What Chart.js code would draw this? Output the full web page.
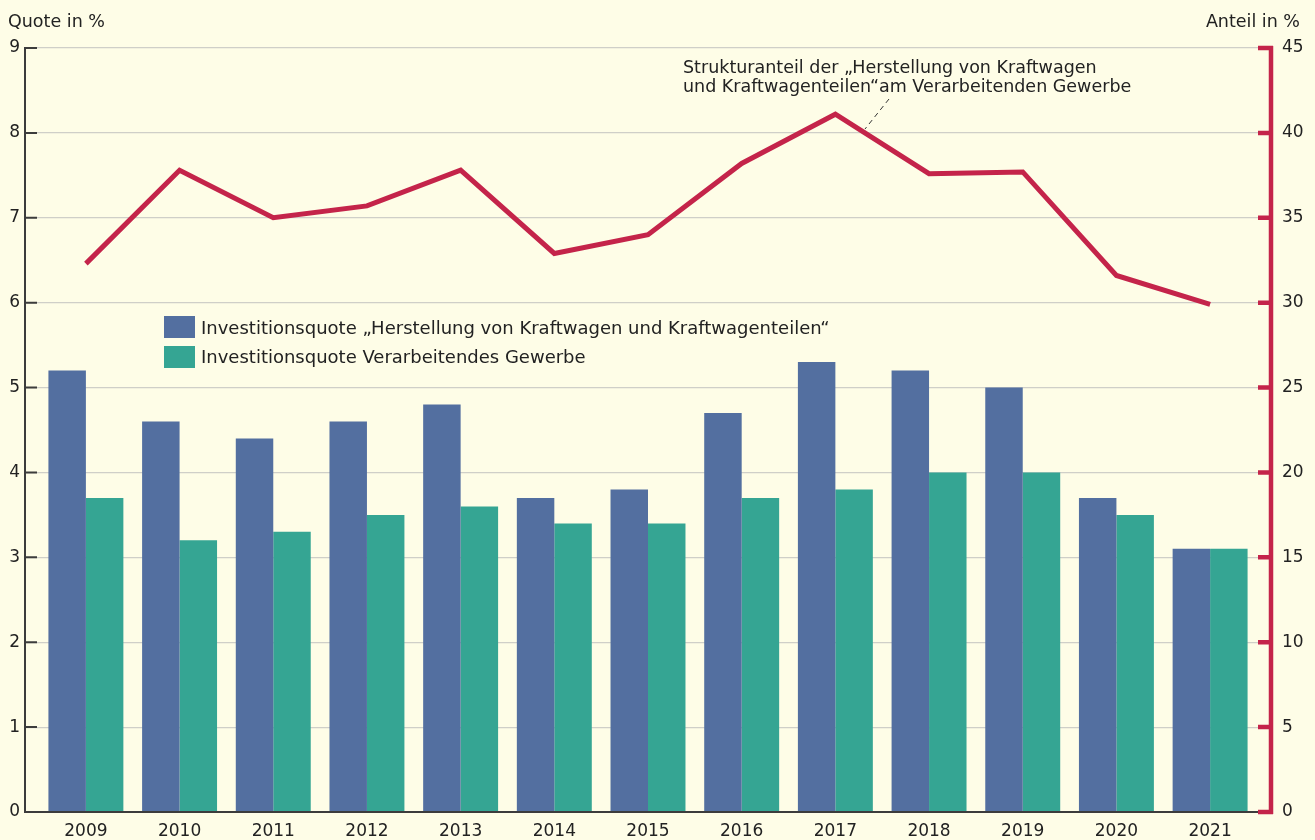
<!doctype html>
<html>
<head>
<meta charset="utf-8">
<title>Investitionsquote</title>
<script src="https://cdn.jsdelivr.net/npm/chart.js@4/dist/chart.umd.min.js"></script>
<style>
  body { margin: 0; background: #fefde7; }
  #wrap { position: relative; width: 1315px; height: 840px; font-family: "DejaVu Sans", sans-serif; color: #222; }
  .t { position: absolute; white-space: nowrap; font-size: 17.5px; line-height: 19px; }
  .lg { font-size: 18px; }
  .sw { position: absolute; width: 31px; height: 22px; }
</style>
</head>
<body>
<div id="wrap">
  <canvas id="c" width="1315" height="840"></canvas>
  <div class="t" style="left:8px;top:12px;">Quote in %</div>
  <div class="t" style="right:15px;top:12px;">Anteil in %</div>
  <div class="t" style="left:683px;top:58px;">Strukturanteil der „Herstellung von Kraftwagen<br>und Kraftwagenteilen“am Verarbeitenden Gewerbe</div>
  <div class="sw" style="left:164px;top:316px;background:#536fa0;"></div>
  <div class="t lg" style="left:201px;top:318px;">Investitionsquote „Herstellung von Kraftwagen und Kraftwagenteilen“</div>
  <div class="sw" style="left:164px;top:346px;background:#35a593;"></div>
  <div class="t lg" style="left:201px;top:347px;">Investitionsquote Verarbeitendes Gewerbe</div>
</div>
<script>
var years = [2009, 2010, 2011, 2012, 2013, 2014, 2015, 2016, 2017, 2018, 2019, 2020, 2021];
var quoteKfz = [5.2, 4.6, 4.4, 4.6, 4.8, 3.7, 3.8, 4.7, 5.3, 5.2, 5.0, 3.7, 3.1];
var quoteVG = [3.7, 3.2, 3.3, 3.5, 3.6, 3.4, 3.4, 3.7, 3.8, 4.0, 4.0, 3.5, 3.1];
var anteilKfz = [32.3, 37.8, 35.0, 35.7, 37.8, 32.9, 34.0, 38.2, 41.1, 37.6, 37.7, 31.6, 29.9];
var leftTicks = [0, 1, 2, 3, 4, 5, 6, 7, 8, 9];
var rightTicks = [0, 5, 10, 15, 20, 25, 30, 35, 40, 45];

function pts(vals) {
  return years.map(function(y, i) { return { x: y, y: vals[i] }; });
}

var axesPlugin = {
  id: 'axes',
  afterDatasetsDraw: function(chart) {
    var ctx = chart.ctx, a = chart.chartArea;
    var y = chart.scales.y, y2 = chart.scales.y2;
    ctx.save();
    // left axis
    ctx.strokeStyle = '#3c3c3c';
    ctx.lineWidth = 2;
    ctx.beginPath();
    ctx.moveTo(a.left, a.top - 1);
    ctx.lineTo(a.left, a.bottom + 1);
    leftTicks.forEach(function(v) {
      var p = y.getPixelForValue(v);
      ctx.moveTo(a.left, p);
      ctx.lineTo(a.left + 12, p);
    });
    ctx.moveTo(a.left, a.bottom);
    ctx.lineTo(a.right, a.bottom);
    ctx.stroke();
    // right axis
    ctx.strokeStyle = '#c4244a';
    ctx.lineWidth = 4.5;
    ctx.beginPath();
    ctx.moveTo(a.right, a.top - 2);
    ctx.lineTo(a.right, a.bottom + 2);
    rightTicks.forEach(function(v) {
      var p = y2.getPixelForValue(v);
      ctx.moveTo(a.right + 2, p);
      ctx.lineTo(a.right - 13, p);
    });
    ctx.stroke();
    // leader line
    ctx.strokeStyle = '#333';
    ctx.lineWidth = 1;
    ctx.setLineDash([5, 4]);
    ctx.beginPath();
    ctx.moveTo(889, 99);
    ctx.lineTo(865, 129);
    ctx.stroke();
    ctx.restore();
  }
};

var tickFont = { family: 'DejaVu Sans', size: 17 };

new Chart(document.getElementById('c'), {
  type: 'bar',
  data: {
    datasets: [
      { type: 'line', data: pts(anteilKfz), yAxisID: 'y2', borderColor: '#c4244a', borderWidth: 5,
        pointRadius: 0, tension: 0, borderJoinStyle: 'miter', borderCapStyle: 'butt', order: 0 },
      { data: pts(quoteKfz), yAxisID: 'y', backgroundColor: '#536fa0', order: 1,
        categoryPercentage: 0.8, barPercentage: 1.0 },
      { data: pts(quoteVG), yAxisID: 'y', backgroundColor: '#35a593', order: 1,
        categoryPercentage: 0.8, barPercentage: 1.0 }
    ]
  },
  options: {
    responsive: false,
    animation: false,
    layout: { padding: { top: 48, left: 0, right: 0, bottom: 0 } },
    plugins: { legend: { display: false }, tooltip: { enabled: false } },
    scales: {
      x: {
        type: 'linear',
        offset: false,
        min: 2008.35, max: 2021.65,
        afterBuildTicks: function(s) { s.ticks = years.map(function(v) { return { value: v }; }); },
        afterFit: function(s) { s.height = 28; },
        grid: { display: false, drawTicks: false },
        border: { display: false },
        ticks: { color: '#222', font: tickFont, padding: 9, maxRotation: 0, autoSkip: false,
                 callback: function(v) { return String(v); } }
      },
      y: {
        position: 'left',
        min: 0, max: 9,
        afterBuildTicks: function(s) { s.ticks = leftTicks.map(function(v) { return { value: v }; }); },
        afterFit: function(s) { s.width = 25; },
        grid: { color: '#cfcfc8', lineWidth: 1.2, drawTicks: false },
        border: { display: false },
        ticks: { color: '#222', font: tickFont, padding: 5 }
      },
      y2: {
        position: 'right',
        min: 0, max: 45,
        afterBuildTicks: function(s) { s.ticks = rightTicks.map(function(v) { return { value: v }; }); },
        afterFit: function(s) { s.width = 44; },
        grid: { display: false, drawTicks: false },
        border: { display: false },
        ticks: { color: '#222', font: tickFont, padding: 11 }
      }
    }
  },
  plugins: [axesPlugin]
});
</script>
</body>
</html>
